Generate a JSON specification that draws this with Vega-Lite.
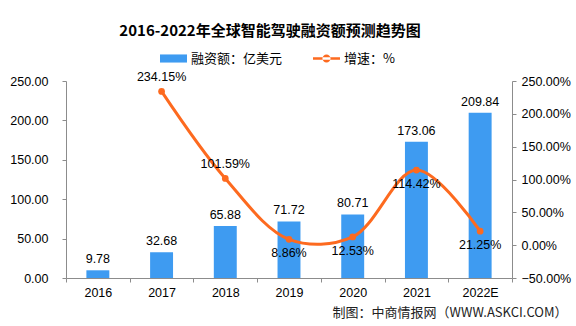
{
  "$schema": "https://vega.github.io/schema/vega-lite/v6.json",
  "width": 446,
  "height": 197,
  "autosize": {"type": "none"},
  "padding": {"left": 66, "top": 81, "right": 64, "bottom": 48},
  "background": "white",
  "title": {
    "text": "2016-2022年全球智能驾驶融资额预测趋势图",
    "font": "Noto Sans CJK SC",
    "fontSize": 15,
    "fontWeight": "bold",
    "color": "#000000",
    "anchor": "middle",
    "dx": -19,
    "offset": 6
  },
  "config": {
    "view": {"stroke": null},
    "font": "Liberation Sans Narrow, Liberation Sans",
    "axis": {
      "domainColor": "#8c8c8c",
      "tickColor": "#8c8c8c",
      "labelColor": "#000000",
      "labelFont": "Liberation Sans Narrow, Liberation Sans",
      "labelFontSize": 12.5,
      "labelOverlap": false,
      "labelBound": false,
      "labelFlush": false,
      "grid": false,
      "tickSize": 4
    }
  },
  "data": {
    "values": [
      {"year": "2016", "amount": 9.78, "growth": null},
      {"year": "2017", "amount": 32.68, "growth": 234.15},
      {"year": "2018", "amount": 65.88, "growth": 101.59},
      {"year": "2019", "amount": 71.72, "growth": 8.86},
      {"year": "2020", "amount": 80.71, "growth": 12.53},
      {"year": "2021", "amount": 173.06, "growth": 114.42},
      {"year": "2022E", "amount": 209.84, "growth": 21.25}
    ]
  },
  "encoding": {
    "x": {
      "field": "year",
      "type": "ordinal",
      "sort": null,
      "scale": {"paddingInner": 0, "paddingOuter": 0},
      "axis": {
        "title": "制图：中商情报网（WWW.ASKCI.COM）",
        "titleFont": "Noto Sans CJK SC",
        "titleFontSize": 13,
        "titleFontWeight": "normal",
        "titleColor": "#222222",
        "titleAnchor": "end",
        "titleAlign": "right",
        "titleX": 501,
        "titleY": 28,
        "labelAngle": 0,
        "tickBand": "extent",
        "labelPadding": 4
      }
    }
  },
  "layer": [
    {
      "encoding": {
        "y": {
          "field": "amount",
          "type": "quantitative",
          "scale": {"domain": [0, 250], "nice": false},
          "axis": {
            "title": null,
            "values": [0, 50, 100, 150, 200, 250],
            "format": ".2f",
            "labelOverlap": false,
            "labelPadding": 14
          }
        }
      },
      "layer": [
        {
          "mark": {"type": "bar", "width": {"band": 0.36}},
          "encoding": {
            "fill": {
              "datum": "融资额：亿美元",
              "type": "nominal",
              "scale": {"range": ["#3e9bf1"]},
              "legend": {
                "title": null,
                "orient": "none",
                "legendX": 94,
                "legendY": -36,
                "padding": 0,
                "symbolType": "M-1,-0.3H1V0.3H-1Z",
                "symbolSize": 729,
                "symbolStrokeWidth": 0,
                "labelFont": "Noto Sans CJK SC",
                "labelFontSize": 13,
                "labelColor": "#000000",
                "labelOffset": 4
              }
            }
          }
        },
        {
          "mark": {"type": "text", "baseline": "bottom", "dy": -4, "fontSize": 12.5, "color": "#000000"},
          "encoding": {
            "text": {"field": "amount", "type": "quantitative", "format": ".2f"}
          }
        }
      ]
    },
    {
      "transform": [
        {"filter": "datum.growth != null"},
        {"calculate": "format(datum.growth, '.2f') + '%'", "as": "growthLabel"}
      ],
      "encoding": {
        "y": {
          "field": "growth",
          "type": "quantitative",
          "scale": {"domain": [-50, 250], "nice": false},
          "axis": {
            "title": null,
            "orient": "right",
            "values": [-50, 0, 50, 100, 150, 200, 250],
            "labelExpr": "format(datum.value, '.2f') + '%'",
            "labelOverlap": false,
            "labelPadding": 5
          }
        }
      },
      "layer": [
        {
          "mark": {"type": "line", "interpolate": "catmull-rom", "strokeWidth": 3},
          "encoding": {
            "stroke": {
              "datum": "增速：%",
              "type": "nominal",
              "scale": {"range": ["#fd6a1f"]},
              "legend": {
                "title": null,
                "orient": "none",
                "legendX": 247,
                "legendY": -36,
                "padding": 0,
                "symbolType": "M-1,-0.1H1V0.1H-1Z M-0.3,0A0.3,0.3 0 1,0 0.3,0A0.3,0.3 0 1,0 -0.3,0Z",
                "symbolSize": 729,
                "symbolFillColor": "#fd6a1f",
                "symbolStrokeWidth": 0,
                "labelFont": "Noto Sans CJK SC",
                "labelFontSize": 13,
                "labelColor": "#000000",
                "labelOffset": 4
              }
            }
          }
        },
        {
          "mark": {"type": "point", "filled": true, "size": 45, "color": "#fd6a1f", "opacity": 1}
        },
        {
          "transform": [{"filter": "datum.year == '2017' || datum.year == '2018'"}],
          "mark": {"type": "text", "baseline": "middle", "dy": -14, "fontSize": 12.5, "color": "#000000"},
          "encoding": {
            "text": {"field": "growthLabel", "type": "nominal"}
          }
        },
        {
          "transform": [{"filter": "datum.year != '2017' && datum.year != '2018'"}],
          "mark": {"type": "text", "baseline": "middle", "dy": 14, "fontSize": 12.5, "color": "#000000"},
          "encoding": {
            "text": {"field": "growthLabel", "type": "nominal"}
          }
        }
      ]
    }
  ],
  "resolve": {"scale": {"y": "independent", "fill": "independent", "stroke": "independent"}}
}
